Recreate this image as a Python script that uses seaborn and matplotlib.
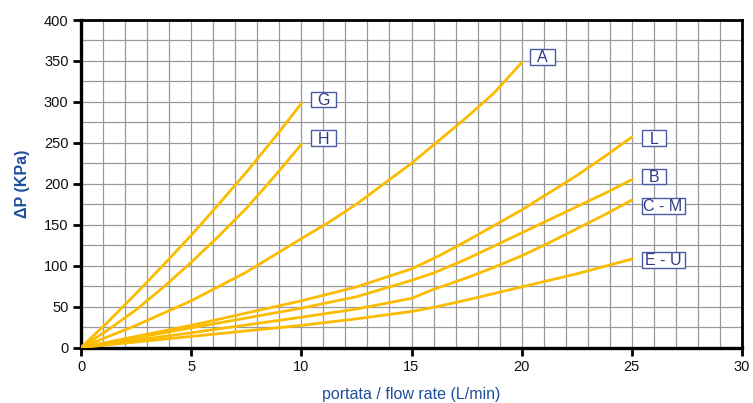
import matplotlib
matplotlib.use("Agg")
import matplotlib.pyplot as plt
from matplotlib.ticker import MultipleLocator
from matplotlib.patches import Rectangle
import seaborn as sns
import pandas as pd

# ---- data ----
flow_G = [0, 1.25, 2.5, 3.75, 5, 6.25, 7.5, 8.75, 10]
dp_G = [0, 32, 66, 101, 137, 175, 214, 255, 298]
flow_H = [0, 1.25, 2.5, 3.75, 5, 6.25, 7.5, 8.75, 10]
dp_H = [0, 22, 46, 74, 104, 136, 170, 208, 248]
flow_A = [0, 2.5, 5, 7.5, 10, 11.25, 12.5, 13.75, 15, 16.25, 17.5, 18.75, 20]
dp_A = [0, 27, 57, 92, 133, 153, 175, 200, 225, 253, 281, 311, 348]
flow_L = [0, 5, 10, 12.5, 15, 16.25, 17.5, 18.75, 20, 21.25, 22.5, 23.75, 25]
dp_L = [0, 27, 57, 74, 96, 112, 130, 149, 168, 189, 210, 233, 257]
flow_B = [0, 5, 10, 12.5, 15, 16, 17.5, 18.75, 20, 21.25, 22.5, 23.75, 25]
dp_B = [0, 24, 48, 62, 82, 91, 108, 124, 140, 156, 172, 188, 205]
flow_CM = [0, 5, 10, 12.5, 15, 16, 17.5, 18.75, 20, 21.25, 22.5, 23.75, 25]
dp_CM = [0, 18, 37, 47, 60, 71, 85, 98, 112, 128, 145, 162, 180]
flow_EU = [0, 5, 10, 12.5, 15, 16, 17.5, 18.75, 20, 21.25, 22.5, 23.75, 25]
dp_EU = [0, 13.5, 27, 35, 44, 49, 58, 66, 74, 82, 90, 99, 108]

series_names = ["G", "H", "A", "L", "B", "C - M", "E - U"]
series_x = [flow_G, flow_H, flow_A, flow_L, flow_B, flow_CM, flow_EU]
series_y = [dp_G, dp_H, dp_A, dp_L, dp_B, dp_CM, dp_EU]
label_x = [11.0, 11.0, 20.95, 26.0, 26.0, 26.42, 26.42]
label_y = [303, 256, 355, 256, 209, 173, 107]

x_label = "portata / flow rate (L/min)"
y_label = "ΔP (KPa)"

rows = []
for name, xs, ys in zip(series_names, series_x, series_y):
    for xv, yv in zip(xs, ys):
        rows.append({"serie": name, "flow": xv, "dp": yv})
df = pd.DataFrame(rows)

sns.set_theme(style="white")
plt.rcParams["font.family"] = ["Liberation Sans", "DejaVu Sans"]

fig = plt.figure(figsize=(7.53, 4.03), dpi=100)
ax = fig.add_axes([81 / 753, 1 - 347.5 / 403, (742 - 81) / 753, (347.5 - 20) / 403])

line_color = "#FBBC00"
sns.lineplot(data=df, x="flow", y="dp", hue="serie", units="serie", estimator=None,
             palette={n: line_color for n in series_names}, legend=False,
             linewidth=2.0, sort=False, ax=ax, zorder=3)

ax.set_xlim(0, 30)
ax.set_ylim(0, 400)
ax.xaxis.set_major_locator(MultipleLocator(5))
ax.xaxis.set_minor_locator(MultipleLocator(1))
ax.yaxis.set_major_locator(MultipleLocator(50))
ax.yaxis.set_minor_locator(MultipleLocator(25))
ax.grid(True, which="both", color="#999999", linewidth=0.9)
ax.set_axisbelow(True)

for sp in ax.spines.values():
    sp.set_visible(True)
    sp.set_color("black")
    sp.set_linewidth(2.0)
ax.spines["left"].set_linewidth(2.4)
ax.spines["bottom"].set_linewidth(2.4)

ax.tick_params(axis="both", which="major", direction="out", length=6, width=2,
               color="black", labelsize=10.5, labelcolor="#111111", pad=3,
               bottom=True, left=True)
ax.tick_params(axis="both", which="minor", length=0)

ax.set_xlabel(x_label, color="#1F4E9B", fontsize=11.5, labelpad=9)
ax.set_ylabel(y_label, color="#1F4E9B", fontsize=11.5, fontweight="bold", labelpad=10)

# label boxes: fixed pixel sizes converted to data units
px_x = 30 / (742 - 81)
px_y = 400 / (347.5 - 20)
for name, lx, ly in zip(series_names, label_x, label_y):
    wpx = 43 if len(name) > 1 else 24.5
    w = wpx * px_x
    h = 15.5 * px_y
    ax.add_patch(Rectangle((lx - w / 2, ly - h / 2), w, h, facecolor="white",
                           edgecolor="#4A5AA0", linewidth=1.0, zorder=4))
    ax.text(lx, ly - 5.6 * px_y, name, ha="center", va="baseline", fontsize=11.5,
            color="#2E3A87", zorder=5)

fig.savefig("out.png", dpi=100)
